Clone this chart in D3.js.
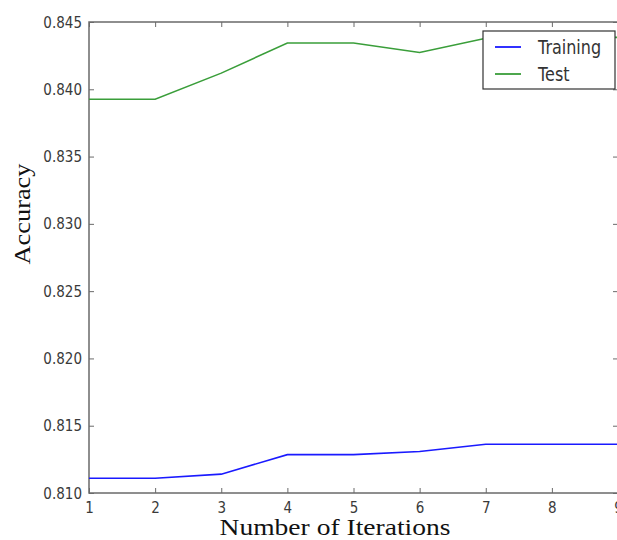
<!DOCTYPE html>
<html>
<head>
<meta charset="utf-8">
<script src="https://cdn.jsdelivr.net/npm/d3@7"></script>
<style>
  html, body { margin: 0; padding: 0; background: #fff; }
  svg { display: block; }
</style>
</head>
<body>
<svg id="chart" width="617" height="540"></svg>
<script>
// Accuracy per boosting iteration
const iterations = [1, 2, 3, 4, 5, 6, 7, 8, 9];
const trainingAcc = [0.8111, 0.8111, 0.8114, 0.81285, 0.81285, 0.81308, 0.81362, 0.81362, 0.81362];
const testAcc = [0.83926, 0.83926, 0.8412, 0.84344, 0.84344, 0.84273, 0.84379, 0.84386, 0.84386];
const yTicks = [0.810, 0.815, 0.820, 0.825, 0.830, 0.835, 0.840, 0.845];
const seriesNames = ["Training", "Test"];
const seriesColors = ["#1a1aff", "#3a9e3a"];

const svg = d3.select("#chart");
const plotLeft = 89, plotTop = 22, plotRight = 618, plotBottom = 493;

const x = d3.scaleLinear().domain([1, 9]).range([plotLeft, plotRight]);
const y = d3.scaleLinear().domain([0.810, 0.845]).range([plotBottom, plotTop]);

const axisColor = "#6a6a6a";
const tickFont = "'DejaVu Sans', sans-serif";
const stretch = 1.17; // slightly tall glyphs for tick and legend text

// Frame
svg.append("rect")
  .attr("x", plotLeft).attr("y", plotTop)
  .attr("width", plotRight - plotLeft).attr("height", plotBottom - plotTop)
  .attr("fill", "none").attr("stroke", axisColor).attr("stroke-width", 1.5);

// Axes with inward ticks
const gx = svg.append("g").attr("transform", `translate(0,${plotBottom})`)
  .call(d3.axisBottom(x).tickValues(iterations).tickFormat(d3.format("d")).tickSize(-5).tickPadding(9));
const gxTop = svg.append("g").attr("transform", `translate(0,${plotTop})`)
  .call(d3.axisTop(x).tickValues(iterations).tickFormat("").tickSize(-5));
const gy = svg.append("g").attr("transform", `translate(${plotLeft},0)`)
  .call(d3.axisLeft(y).tickValues(yTicks).tickFormat(d3.format(".3f")).tickSize(-5).tickPadding(7));
const gyRight = svg.append("g").attr("transform", `translate(${plotRight},0)`)
  .call(d3.axisRight(y).tickValues(yTicks).tickFormat("").tickSize(-5));

[gx, gxTop, gy, gyRight].forEach(g => {
  g.select(".domain").remove();
  g.selectAll(".tick line").attr("stroke", axisColor).attr("stroke-width", 1);
  g.selectAll(".tick text").attr("fill", "#3a3a3a")
    .style("font-family", tickFont).style("font-size", "13.5px");
});
// stretch tick labels vertically, keeping their anchor position
gy.selectAll(".tick text").attr("transform", `scale(1,${stretch})`);
gx.selectAll(".tick text")
  .attr("y", function () { return +d3.select(this).attr("y") / stretch; })
  .attr("transform", `scale(1,${stretch})`);

// Lines
const line = d3.line().x((d, i) => x(iterations[i])).y(d => y(d));
[trainingAcc, testAcc].forEach((vals, k) => {
  svg.append("path")
    .datum(vals)
    .attr("d", line)
    .attr("fill", "none")
    .attr("stroke", seriesColors[k])
    .attr("stroke-width", 1.6);
});

// Legend
const lg = svg.append("g").attr("transform", "translate(483,31)");
lg.append("rect").attr("width", 132).attr("height", 58)
  .attr("fill", "#fff").attr("stroke", "#333").attr("stroke-width", 1.2);
seriesNames.forEach((name, i) => {
  const yy = 16 + i * 27;
  lg.append("line").attr("x1", 12).attr("x2", 38).attr("y1", yy).attr("y2", yy)
    .attr("stroke", seriesColors[i]).attr("stroke-width", 1.8);
  lg.append("text")
    .attr("transform", `translate(55,${yy + 7}) scale(1,${stretch})`)
    .text(name)
    .attr("fill", "#333")
    .style("font-family", tickFont).style("font-size", "16px");
});

// Axis labels
svg.append("text")
  .attr("x", 335).attr("y", 535)
  .attr("text-anchor", "middle")
  .attr("textLength", 231).attr("lengthAdjust", "spacingAndGlyphs")
  .text("Number of Iterations")
  .attr("fill", "#111")
  .style("font-family", "'Liberation Serif', 'DejaVu Serif', serif").style("font-size", "24px");

svg.append("text")
  .attr("transform", "translate(30,214) rotate(-90)")
  .attr("text-anchor", "middle")
  .attr("textLength", 101).attr("lengthAdjust", "spacingAndGlyphs")
  .text("Accuracy")
  .attr("fill", "#111")
  .style("font-family", "'Liberation Serif', 'DejaVu Serif', serif").style("font-size", "24px");
</script>
</body>
</html>
